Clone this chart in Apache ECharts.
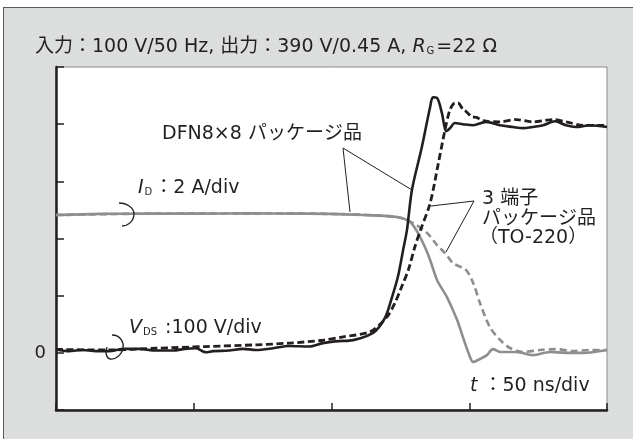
<!DOCTYPE html>
<html>
<head>
<meta charset="utf-8">
<script src="https://cdn.jsdelivr.net/npm/echarts@6/dist/echarts.min.js"></script>
<style>html,body{margin:0;padding:0;background:#fff}#c{width:633px;height:439px}</style>
</head>
<body>
<div id="c"></div>
<script>
// time axis (ns), 50 ns/div
const xTicks = [0, 50, 100, 150, 200];
// V_DS, DFN8x8 package (solid black), volts
const dfnVdsT = [0,4.7,9.8,14.5,19.2,24.7,30.1,36.3,42.5,46.8,50.8,54.4,57,62.8,67.9,72.6,78.8,84.6,91.8,96.9,104.2,105.6,115.1,119.4,122,124.1,126,127.4,129.2,132.8,135.8,136.8,138.3,140.1,141.6,143,144.8,147.7,151.4,156.1,161.2,165.9,169.5,173.1,176.8,181.1,185.1,188.7,193.8,200];
const dfnVdsV = [6,3,5,3,3,7,7,4,4,7,8,1,3,4,7,5,8,12,11,17,21,21,35,61,98,133,180,215,285,360,430,447,446,419,388,393,402,400,398,404,398,395,393,395,398,405,398,395,398,395];
// V_DS, 3-terminal TO-220 (dashed black), volts
const toVdsT = [0,19.2,36.3,54.4,72.6,84.6,96.9,104.2,114,120,123,125.5,127.9,130.3,132.1,135.8,138.8,141.2,143,144.8,145.9,147.8,148.9,150.9,152.6,155.1,161,167.1,173.1,178,180.4,185.2,191.3,200];
const toVdsV = [6,5,8,11,14,17,22,28,37,62,87,116,145,186,212,262,332,390,425,437,437,425,422,413,412,406,404,408,404,407,408,404,398,398];
// I_D, DFN8x8 (solid gray), amperes
const dfnIdT = [0,16,34.1,52.3,70.4,88.6,99.5,111.4,123.8,128.5,131.4,133.9,135.8,138.3,141.9,145.6,147.7,150.3,151.4,153.2,156.4,158.6,161.2,167,173.1,179.3,185.1,191.3,200];
const dfnIdA = [4.82,4.86,4.87,4.87,4.88,4.87,4.86,4.82,4.75,4.58,4.19,3.7,3.25,2.55,1.95,1.15,0.55,-0.15,-0.32,-0.25,-0.08,0.13,0.03,0.03,-0.08,0.03,0,0,0.1];
// I_D, TO-220 (dashed gray), amperes
const toIdT = [0,16,34.1,52.3,70.4,88.6,99.5,111.4,123.8,129.6,134.7,138.3,141.2,144.1,148.8,151.4,153.9,157.5,161.2,164.8,169.5,175.7,181.5,187.7,193.8,200];
const toIdA = [4.82,4.85,4.87,4.88,4.87,4.88,4.86,4.83,4.75,4.54,4.19,3.77,3.49,3.14,2.9,2.45,1.74,0.9,0.45,0.17,0.03,0.1,0.13,0.06,0.1,0.1];
// y tick labels (only 0 is labelled)
const yTickLabels = {0: '0'};

const pair = (t, v) => t.map((x, i) => [x, v[i]]);
const FF = "'DejaVu Sans','Noto Sans CJK JP',sans-serif";
const INK = '#231f20';
const GRAY = '#8e8e8e';
const FS = 19;

const chart = echarts.init(document.getElementById('c'), null, {renderer: 'canvas'});

function txt(x, y, text, size, rich) {
  return {
    type: 'text', z: 100,
    style: {
      x: x, y: y, text: text, fill: INK, fontSize: size, fontFamily: FF,
      verticalAlign: 'middle', align: 'left', rich: rich || {}
    }
  };
}
const richSub = (size) => ({
  i: {fontStyle: 'italic', fontSize: size, fontFamily: FF, fill: INK},
  s: {fontSize: 10, fontFamily: FF, fill: INK, verticalAlign: 'bottom', padding: [0, 2, 0, 1]},
  n: {fontSize: size, fontFamily: FF, fill: INK}
});
function seg(x1, y1, x2, y2, w) {
  return {type: 'line', z: 100, shape: {x1: x1, y1: y1, x2: x2, y2: y2}, style: {stroke: INK, lineWidth: w || 1}};
}
function bez(x1, y1, c1x, c1y, c2x, c2y, x2, y2) {
  return {type: 'bezierCurve', z: 100,
    shape: {x1: x1, y1: y1, cpx1: c1x, cpy1: c1y, cpx2: c2x, cpy2: c2y, x2: x2, y2: y2},
    style: {fill: null, stroke: INK, lineWidth: 1.3}};
}

const option = {
  backgroundColor: '#dcdddd',
  animation: false,
  grid: {left: 56, right: 26, top: 67, bottom: 29, show: true, backgroundColor: '#ffffff', borderColor: '#8a8a8a', borderWidth: 1},
  xAxis: {
    type: 'value', min: xTicks[0], max: xTicks[xTicks.length - 1], interval: 50,
    axisLine: {show: true, onZero: false, lineStyle: {color: INK, width: 2.5}},
    axisTick: {show: true, inside: true, length: 7, lineStyle: {color: INK, width: 1.5}},
    axisLabel: {show: false}, splitLine: {show: false}
  },
  yAxis: [{
    type: 'value', min: -100, max: 500, interval: 100,
    axisLine: {show: true, onZero: false, lineStyle: {color: INK, width: 2.5}},
    axisTick: {show: true, inside: true, length: 8, lineStyle: {color: INK, width: 1.5}},
    axisLabel: {show: true, margin: 10, fontSize: 18, fontFamily: FF, color: INK,
      formatter: function (v) { return yTickLabels[v] !== undefined ? yTickLabels[v] : ''; }},
    splitLine: {show: false}
  }, {
    type: 'value', min: -2, max: 10, interval: 2, show: false
  }],
  series: [
    {type: 'line', yAxisIndex: 1, data: pair(toIdT, toIdA), showSymbol: false, smooth: 0.3,
      lineStyle: {color: GRAY, width: 2.6, type: [7, 4]}, z: 2},
    {type: 'line', yAxisIndex: 1, data: pair(dfnIdT, dfnIdA), showSymbol: false, smooth: 0.3,
      lineStyle: {color: GRAY, width: 2.6}, z: 3},
    {type: 'line', yAxisIndex: 0, data: pair(toVdsT, toVdsV), showSymbol: false, smooth: 0.3,
      lineStyle: {color: INK, width: 2.8, type: [7, 3.5]}, z: 4},
    {type: 'line', yAxisIndex: 0, data: pair(dfnVdsT, dfnVdsV), showSymbol: false, smooth: 0.3,
      lineStyle: {color: INK, width: 2.6}, z: 5}
  ],
  graphic: [
    // outer frame
    {type: 'rect', shape: {x: 0, y: 0, width: 633, height: 7}, style: {fill: '#fff'}},
    {type: 'rect', shape: {x: 0, y: 0, width: 3, height: 439}, style: {fill: '#fff'}},
    {type: 'line', shape: {x1: 3, y1: 7.5, x2: 633, y2: 7.5}, style: {stroke: '#595757', lineWidth: 1}},
    {type: 'line', shape: {x1: 3.5, y1: 7, x2: 3.5, y2: 439}, style: {stroke: '#595757', lineWidth: 1}},
    // title
    txt(35, 47, '入力：100 V/50 Hz, 出力：390 V/0.45 A, {i|R}{s|G}=22 Ω', FS, richSub(FS)),
    // DFN label and leader lines
    txt(162, 134, 'DFN8×8 パッケージ品', FS),
    seg(343, 148, 350, 212), seg(343, 148, 412, 190),
    // 3-terminal label and leader lines
    txt(482, 199, '3 端子', FS),
    txt(482, 219.5, 'パッケージ品', FS),
    txt(479, 238, '（TO-220）', FS),
    seg(474, 201, 431, 206), seg(474, 201, 446, 252),
    // I_D label
    txt(138, 188, '{i|I}{s|D}{n|：2 A/div}', FS, richSub(FS)),
    // V_DS label
    txt(129, 328, '{i|V}{s|DS}{n| :100 V/div}', FS, richSub(FS)),
    // time scale label
    txt(470, 386, '{i|t}{n| ：50 ns/div}', FS, richSub(FS)),
    // curls
    bez(119, 203, 127, 203, 134, 208, 134, 214),
    bez(134, 214, 134, 221, 128, 226, 122, 226),
    bez(112, 335, 121, 335, 124, 343, 123, 348),
    bez(123, 348, 122, 355, 115, 360, 110, 359),
    bez(110, 359, 106, 358, 105, 352, 107, 347)
  ]
};
chart.setOption(option);
</script>
</body>
</html>
